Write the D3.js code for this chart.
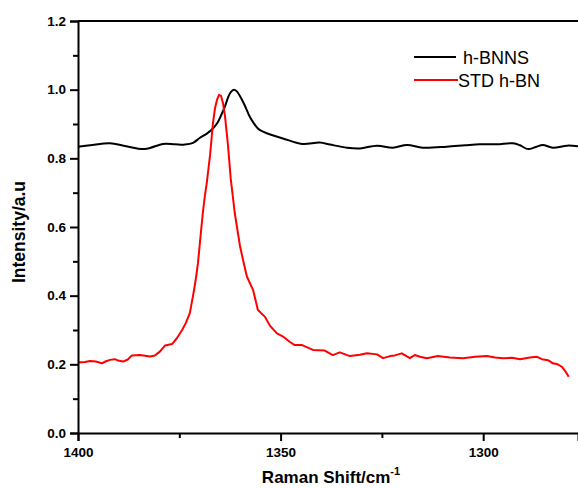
<!DOCTYPE html>
<html>
<head>
<meta charset="utf-8">
<script src="https://cdn.jsdelivr.net/npm/d3@7/dist/d3.min.js"></script>
<style>
html,body{margin:0;padding:0;background:#fff;}
svg{display:block;}
text{font-family:Arial,"Liberation Sans",sans-serif;}
</style>
</head>
<body>
<svg id="chart" width="578" height="488"></svg>
<script>
// Wavenumber (cm^-1) and intensity for h-BNNS
const bnnsShift = [1400,1397.0,1392.1,1388.4,1383.5,1379.0,1376.1,1373.6,1371.6,1369.9,1368.2,1366.7,1365.5,1364.5,1363.7,1363.0,1362.3,1361.5,1360.8,1359.5,1358.5,1357.6,1356.6,1355.6,1354.6,1353.4,1351.4,1349.4,1344.7,1340.3,1337.8,1333.6,1330.4,1326.2,1322.3,1318.8,1314.9,1309.0,1304.5,1300.8,1296.6,1292.7,1290.9,1289.0,1287.0,1285.3,1282.8,1279.3,1276.6];
const bnnsIntensity = [0.834,0.838,0.844,0.836,0.827,0.842,0.841,0.840,0.845,0.860,0.872,0.887,0.905,0.930,0.952,0.976,0.993,1.000,0.995,0.970,0.945,0.921,0.902,0.887,0.879,0.873,0.865,0.858,0.842,0.846,0.840,0.831,0.829,0.837,0.831,0.839,0.831,0.834,0.838,0.841,0.841,0.844,0.838,0.827,0.833,0.839,0.831,0.837,0.835];

// Wavenumber (cm^-1) and intensity for STD h-BN
const stdShift = [1400,1398.3,1397.0,1395.6,1394.1,1393.1,1392.1,1390.9,1390.1,1388.9,1387.7,1386.7,1384.7,1382.2,1381.0,1379.8,1378.5,1376.8,1375.6,1374.3,1373.4,1372.4,1371.6,1370.9,1370.4,1369.7,1369.2,1368.7,1368.2,1367.4,1366.7,1366.2,1365.7,1365.2,1364.7,1364.2,1363.7,1363.0,1362.3,1361.3,1360.0,1359.0,1358.3,1356.8,1355.6,1353.9,1352.6,1350.9,1349.4,1347.7,1346.5,1344.7,1342.0,1339.1,1337.1,1335.4,1332.9,1330.4,1328.7,1326.2,1324.7,1323.0,1321.8,1320.1,1318.1,1316.9,1315.6,1313.9,1311.2,1308.2,1305.0,1302.0,1299.1,1297.1,1295.1,1292.9,1290.9,1288.5,1286.7,1285.5,1284.0,1282.8,1281.6,1280.6,1279.6,1278.9];
const stdIntensity = [0.205,0.207,0.210,0.208,0.203,0.209,0.213,0.215,0.211,0.208,0.214,0.226,0.227,0.223,0.226,0.237,0.255,0.259,0.276,0.300,0.320,0.349,0.400,0.450,0.494,0.580,0.640,0.690,0.730,0.810,0.902,0.945,0.970,0.985,0.982,0.960,0.921,0.840,0.740,0.640,0.543,0.490,0.455,0.417,0.358,0.339,0.312,0.290,0.281,0.265,0.256,0.256,0.242,0.240,0.227,0.235,0.224,0.228,0.232,0.229,0.218,0.224,0.226,0.232,0.218,0.227,0.222,0.218,0.224,0.220,0.218,0.222,0.224,0.220,0.218,0.219,0.215,0.220,0.222,0.215,0.212,0.203,0.200,0.193,0.178,0.164];

const seriesNames = ["h-BNNS","STD h-BN"];
const seriesColors = ["#000000","#ff0000"];
const xTicks = [1400,1350,1300];
const xMinorTicks = [1375,1325];
const yTicks = [0.0,0.2,0.4,0.6,0.8,1.0,1.2];
const yMinorTicks = [0.1,0.3,0.5,0.7,0.9,1.1];
const xTitle = "Raman Shift/cm";
const yTitle = "Intensity/a.u";

const svg = d3.select("#chart");
const L = 78, R = 578, T = 21, B = 433;
const x = d3.scaleLinear().domain([1400, 1276.6]).range([L, R]);
const y = d3.scaleLinear().domain([0, 1.2]).range([B, T]);

const tickFont = 'bold 13.5px Arial, "Liberation Sans", sans-serif';

// lines
const bnns = bnnsShift.map((s,i) => [s, bnnsIntensity[i]]);
const std = stdShift.map((s,i) => [s, stdIntensity[i]]);

svg.append("path").datum(bnns)
  .attr("d", d3.line().x(d => x(d[0])).y(d => y(d[1])).curve(d3.curveCatmullRom.alpha(0.5)))
  .attr("fill","none").attr("stroke",seriesColors[0]).attr("stroke-width",2);
svg.append("path").datum(std)
  .attr("d", d3.line().x(d => x(d[0])).y(d => y(d[1])))
  .attr("fill","none").attr("stroke",seriesColors[1]).attr("stroke-width",2)
  .attr("stroke-linejoin","round");

// axes
const yAxis = d3.axisLeft(y).tickValues(yTicks).tickFormat(d3.format(".1f")).tickSize(8).tickPadding(4);
const yMinor = d3.axisLeft(y).tickValues(yMinorTicks).tickFormat("").tickSize(5);
const xAxis = d3.axisBottom(x).tickValues(xTicks).tickFormat(d3.format("d")).tickSize(8).tickPadding(6);
const xMinor = d3.axisBottom(x).tickValues(xMinorTicks).tickFormat("").tickSize(5);

function style(g){
  g.selectAll("path.domain").attr("stroke","#000").attr("stroke-width",2);
  g.selectAll(".tick line").attr("stroke","#000").attr("stroke-width",2);
  g.selectAll(".tick text").style("font", tickFont).attr("fill","#000");
}
svg.append("g").attr("transform",`translate(${L},0)`).call(yMinor).call(style).select("path.domain").remove();
svg.append("g").attr("transform",`translate(${L},0)`).call(yAxis).call(style);
svg.append("g").attr("transform",`translate(0,${B})`).call(xMinor).call(style).select("path.domain").remove();
svg.append("g").attr("transform",`translate(0,${B})`).call(xAxis).call(style);

// top frame line
svg.append("line").attr("x1",L).attr("x2",R).attr("y1",T).attr("y2",T)
  .attr("stroke","#000").attr("stroke-width",2);

// axis titles
const xt = svg.append("text").attr("x",331).attr("y",483).attr("text-anchor","middle")
  .style("font",'bold 17px Arial, "Liberation Sans", sans-serif');
xt.append("tspan").text(xTitle);
xt.append("tspan").attr("dy",-8).style("font-size","11px").text("-1");

svg.append("text").attr("transform","translate(25,232) rotate(-90)").attr("text-anchor","middle")
  .style("font",'bold 17.5px Arial, "Liberation Sans", sans-serif').text(yTitle);

// legend
const lg = svg.append("g");
const legY = [57, 80];
const legTextX = [463, 458];
seriesNames.forEach((n,i) => {
  lg.append("line").attr("x1",414).attr("x2",i===0?456:458).attr("y1",legY[i]).attr("y2",legY[i])
    .attr("stroke",seriesColors[i]).attr("stroke-width",2);
  lg.append("text").attr("x",legTextX[i]).attr("y",legY[i]+6.5)
    .style("font",'18px Arial, "Liberation Sans", sans-serif').attr("fill","#000").text(n);
});
</script>
</body>
</html>
